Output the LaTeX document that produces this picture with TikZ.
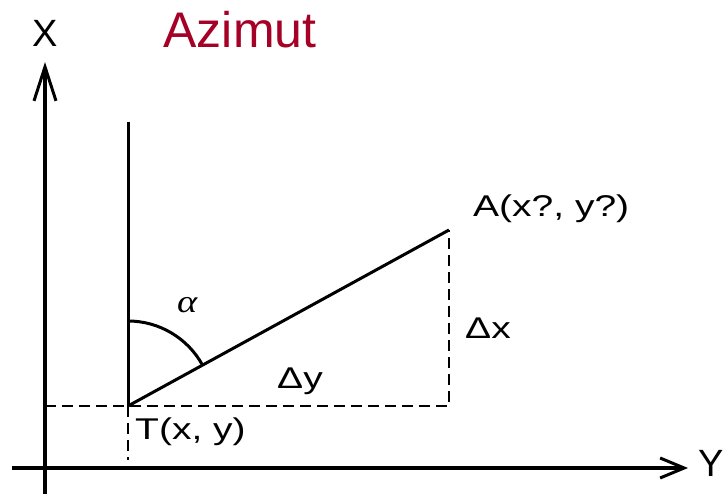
\documentclass[tikz,border=0pt]{standalone}
\usepackage{fontspec}
\setmainfont{Liberation Sans}
\newfontfamily\greekserif{Liberation Serif}
\usepackage{graphicx}
\usetikzlibrary{arrows.meta}
\definecolor{azred}{RGB}{165,0,38}
\begin{document}
\begin{tikzpicture}[x=1pt,y=1pt,
  axis/.style={line width=3.5pt},
  solidline/.style={line width=3pt},
  dashline/.style={line width=2pt,dash pattern=on 11pt off 6pt},
  lbl/.style={inner sep=0pt,anchor=base west,font=\fontsize{30}{36}\selectfont},
  axlbl/.style={inner sep=0pt,font=\fontsize{38}{44}\selectfont}]
\useasboundingbox (0,0) rectangle (725,494);
% coordinates
\coordinate (xb) at (45,0);
\coordinate (xt) at (45,432);
\coordinate (yl) at (12,26);
\coordinate (yr) at (688,26);
\coordinate (T) at (128,88);
\coordinate (Ttop) at (128,372);
\coordinate (Tbot) at (128,34);
\coordinate (A) at (449,264);
\coordinate (Afoot) at (449,88);
\coordinate (L) at (45,88);
\coordinate (arcstart) at (128,173);
% axes
\draw[axis,-{Straight Barb[length=34pt,width=22pt,line width=3pt]}] (xb) -- (xt);
\draw[axis,-{Straight Barb[length=24pt,width=20pt,line width=3pt]}] (yl) -- (yr);
% dashed helpers
\draw[dashline] (L) -- (Afoot) -- (A);
\draw[dashline] (T) -- (Tbot);
% solid lines
\draw[solidline] (T) -- (Ttop);
\draw[solidline] (T) -- (A);
\draw[solidline] (arcstart) arc[start angle=90,end angle=28.7,radius=85];
% labels
\node[axlbl,anchor=base] (lx) at (45,447) {X};
\node[axlbl,anchor=base west] (ly) at (698,17) {Y};
\node[inner sep=0pt,anchor=base,text=azred,font=\fontsize{50}{60}\selectfont] (title) at (240,446) {Azimut};
\node[lbl] (lT) at (135,54) {\scalebox{1.3}[1]{T(x, y)}};
\node[lbl] (lA) at (473,277) {\scalebox{1.3}[1]{A(x?, y?)}};
\node[lbl] (ldx) at (465,155) {\scalebox{1.3}[1]{Δx}};
\node[lbl] (ldy) at (277,105) {\scalebox{1.3}[1]{Δy}};
\node[lbl] (lal) at (177,181) {\scalebox{1.2}[1]{\greekserif\itshape\fontsize{32}{36}\selectfont α}};
\end{tikzpicture}
\end{document}
